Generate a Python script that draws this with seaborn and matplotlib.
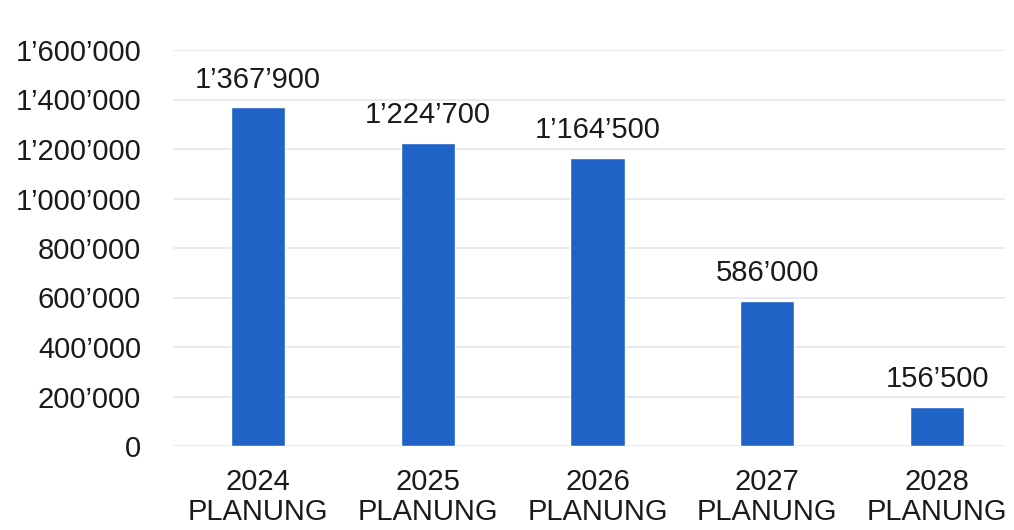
import matplotlib
matplotlib.use("Agg")
import matplotlib.pyplot as plt
import seaborn as sns
import pandas as pd

years = ["2024", "2025", "2026", "2027", "2028"]
suffix = "PLANUNG"
values = [1367900, 1224700, 1164500, 586000, 156500]
yticks = [0, 200000, 400000, 600000, 800000, 1000000, 1200000, 1400000, 1600000]

def fmt(v):
    return f"{v:,}".replace(",", "\u2019")

sns.set_theme(style="white")
plt.rcParams['font.family'] = ['Liberation Sans', 'DejaVu Sans']

labels = [f"{y}\n{suffix}" for y in years]
df = pd.DataFrame({"cat": labels, "val": values})

fig = plt.figure(figsize=(10.14, 5.30), dpi=100)
ax = fig.add_axes([173/1014, 1-446/530, (1005-173)/1014, (446-50)/530])
sns.barplot(data=df, x="cat", y="val", color="#1F63C6", width=0.32,
            saturation=1, ax=ax, zorder=3)
ax.set_xlim(-0.5, 4.4)
ax.set_ylim(0, 1600000)
ax.set_yticks(yticks)
ax.set_yticklabels([fmt(v) if v else "0" for v in yticks], fontsize=21, color="#1a1a1a")
ax.tick_params(axis='y', length=0, pad=23)
ax.tick_params(axis='x', length=0, pad=16)
for t in ax.get_xticklabels():
    t.set_fontsize(21)
    t.set_color("#1a1a1a")
    t.set_linespacing(1.1)
ax.set_xlabel("")
ax.set_ylabel("")
ax.grid(axis='y', color="#e6e6e6", linewidth=1.2, zorder=0)
for s in ax.spines.values():
    s.set_visible(False)

for i, v in enumerate(values):
    ax.annotate(fmt(v), (i, v), xytext=(0, 10), textcoords="offset points",
                ha="center", va="bottom", fontsize=21, color="#1a1a1a")

fig.savefig("out.png", dpi=100)
